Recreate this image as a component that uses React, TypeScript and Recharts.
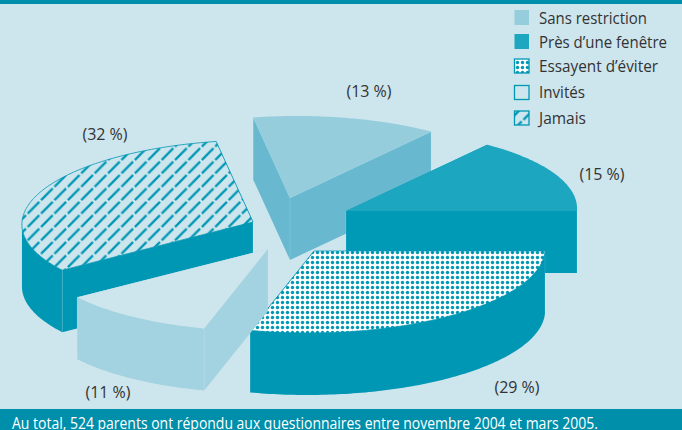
import React from 'react';
import { PieChart, Pie } from 'recharts';

// Share of parents per smoking rule at home, in percent.
const legendNames = ['Sans restriction', 'Près d’une fenêtre', 'Essayent d’éviter', 'Invités', 'Jamais'];
const sliceNames = ['Jamais', 'Sans restriction', 'Près d’une fenêtre', 'Essayent d’éviter', 'Invités'];
const sliceValues = [32, 13, 15, 29, 11];
const footnote = 'Au total, 524 parents ont répondu aux questionnaires entre novembre 2004 et mars 2005.';

const pieData = sliceNames.map((name, i) => ({ name, value: sliceValues[i] }));

const BG = '#cde5ed';
const TEAL = '#0097b4';
const BAND = '#008fab';
const FONT = '"Open Sans", Lato, sans-serif';

const CX = 300;
const CY = 230;
const RX = 231;
const RY = 82;
const SHEAR = 0.08;
const DEPTH = 62;

type SliceStyle = { dx: number; dy: number; top: string; wall: string; edge?: string; lx: number; ly: number };

const sliceStyles: Record<string, SliceStyle> = {
  'Sans restriction': { dx: -10, dy: -32, top: '#96cddc', wall: '#68b9d0', lx: 369, ly: 97 },
  'Près d’une fenêtre': { dx: 46, dy: -19, top: '#1ca6bf', wall: '#0099b6', lx: 602, ly: 180 },
  'Essayent d’éviter': { dx: 14, dy: 21, top: 'url(#dots)', wall: TEAL, edge: TEAL, lx: 517, ly: 393 },
  Invités: { dx: -32, dy: 19, top: BG, wall: '#a3d2e1', lx: 108, ly: 398 },
  Jamais: { dx: -47, dy: -8, top: 'url(#hatch)', wall: TEAL, edge: TEAL, lx: 105, ly: 140 },
};

const legendRows = [
  { y: 10, h: 15, fill: '#96cddc', stroke: 'none', text: 24, width: 108 },
  { y: 34, h: 15, fill: '#1ca6bf', stroke: 'none', text: 48, width: 128 },
  { y: 59, h: 14, fill: 'url(#dots)', stroke: TEAL, text: 72, width: 119 },
  { y: 85.5, h: 14, fill: BG, stroke: TEAL, text: 98, width: 46 },
  { y: 111, h: 14, fill: 'url(#hatch)', stroke: TEAL, text: 124, width: 47 },
];

// Flattened, slightly sheared projection of a point on the pie's rim.
const rimPoint = (ox: number, oy: number, deg: number) => {
  const t = (deg * Math.PI) / 180;
  return [ox + RX * Math.cos(t) + SHEAR * RY * Math.sin(t), oy - RY * Math.sin(t)];
};

const toPath = (pts: number[][]) =>
  pts.map((p, i) => `${i ? 'L' : 'M'}${p[0].toFixed(2)} ${p[1].toFixed(2)}`).join(' ') + ' Z';

const ExtrudedSlice = (props: any) => {
  const { cx, cy, startAngle, endAngle, name } = props;
  const s = sliceStyles[name];
  const ox = cx + s.dx;
  const oy = cy + s.dy;
  const arc: number[][] = [];
  const frontArc: number[][] = [];
  const steps = Math.ceil(Math.abs(startAngle - endAngle));
  for (let i = 0; i <= steps; i++) {
    const a = startAngle + ((endAngle - startAngle) * i) / steps;
    const p = rimPoint(ox, oy, a);
    arc.push(p);
    if (Math.sin((a * Math.PI) / 180) <= 0.001) frontArc.push(p);
  }
  const down = (p: number[]) => [p[0], p[1] + DEPTH];
  const apex = [ox, oy];
  const first = arc[0];
  const last = arc[arc.length - 1];
  const corners = [apex, first, last];
  return (
    <g>
      <path d={toPath([apex, first, down(first), down(apex)])} fill={s.wall} />
      <path d={toPath([apex, last, down(last), down(apex)])} fill={s.wall} />
      {frontArc.length > 1 && (
        <path d={toPath([...frontArc, ...frontArc.map(down).reverse()])} fill={s.wall} />
      )}
      {corners.map((c, i) => (
        <line key={i} x1={c[0]} y1={c[1]} x2={c[0]} y2={c[1] + DEPTH} stroke="#ffffff" strokeOpacity={0.16} strokeWidth={0.8} />
      ))}
      <path d={toPath([apex, ...arc])} fill={s.top} stroke={s.edge ?? 'none'} strokeWidth={s.edge ? 0.8 : 0} />
    </g>
  );
};

const renderValueLabel = (props: any) => {
  const s = sliceStyles[props.name];
  return (
    <text x={s.lx} y={s.ly} textAnchor="middle" fontFamily={FONT} fontSize={16} fill="#333333">
      {`(${props.value} %)`}
    </text>
  );
};

export default function App() {
  return (
    <div style={{ position: 'fixed', left: 0, top: 0, width: 682, height: 430, overflow: 'hidden', background: BG }}>
      <PieChart width={682} height={430} margin={{ top: 0, right: 0, bottom: 0, left: 0 }}>
        <defs>
          <pattern id="dots" width={5} height={5} patternUnits="userSpaceOnUse">
            <rect width={5} height={5} fill="#ffffff" />
            <circle cx={2.5} cy={2.5} r={1.7} fill={TEAL} />
          </pattern>
          <pattern id="hatch" width={13.4} height={13.4} patternUnits="userSpaceOnUse">
            <rect width={13.4} height={13.4} fill={BG} />
            <line x1={0.9} y1={12.5} x2={12.5} y2={0.9} stroke={TEAL} strokeWidth={2.3} />
          </pattern>
        </defs>
        <rect x={0} y={0} width={682} height={4} fill={BAND} />
        <rect x={0} y={409} width={682} height={21} fill={BAND} />
        <text x={12} y={429} fontFamily={FONT} fontSize={15.5} fill="#ffffff" textLength={586} lengthAdjust="spacingAndGlyphs">
          {footnote}
        </text>
        {legendNames.map((name, i) => {
          const r = legendRows[i];
          return (
            <g key={name}>
              <rect x={514.5} y={r.y} width={14.5} height={r.h} fill={r.fill} stroke={r.stroke} strokeWidth={1.3} />
              <text x={539} y={r.text} fontFamily={FONT} fontSize={16} fill="#333333" textLength={r.width} lengthAdjust="spacingAndGlyphs">
                {name}
              </text>
            </g>
          );
        })}
        <Pie
          data={pieData}
          dataKey="value"
          nameKey="name"
          cx={CX}
          cy={CY}
          innerRadius={0}
          outerRadius={RX}
          startAngle={216}
          endAngle={-144}
          stroke="none"
          isAnimationActive={false}
          shape={ExtrudedSlice}
          label={renderValueLabel}
          labelLine={false}
        />
      </PieChart>
    </div>
  );
}
